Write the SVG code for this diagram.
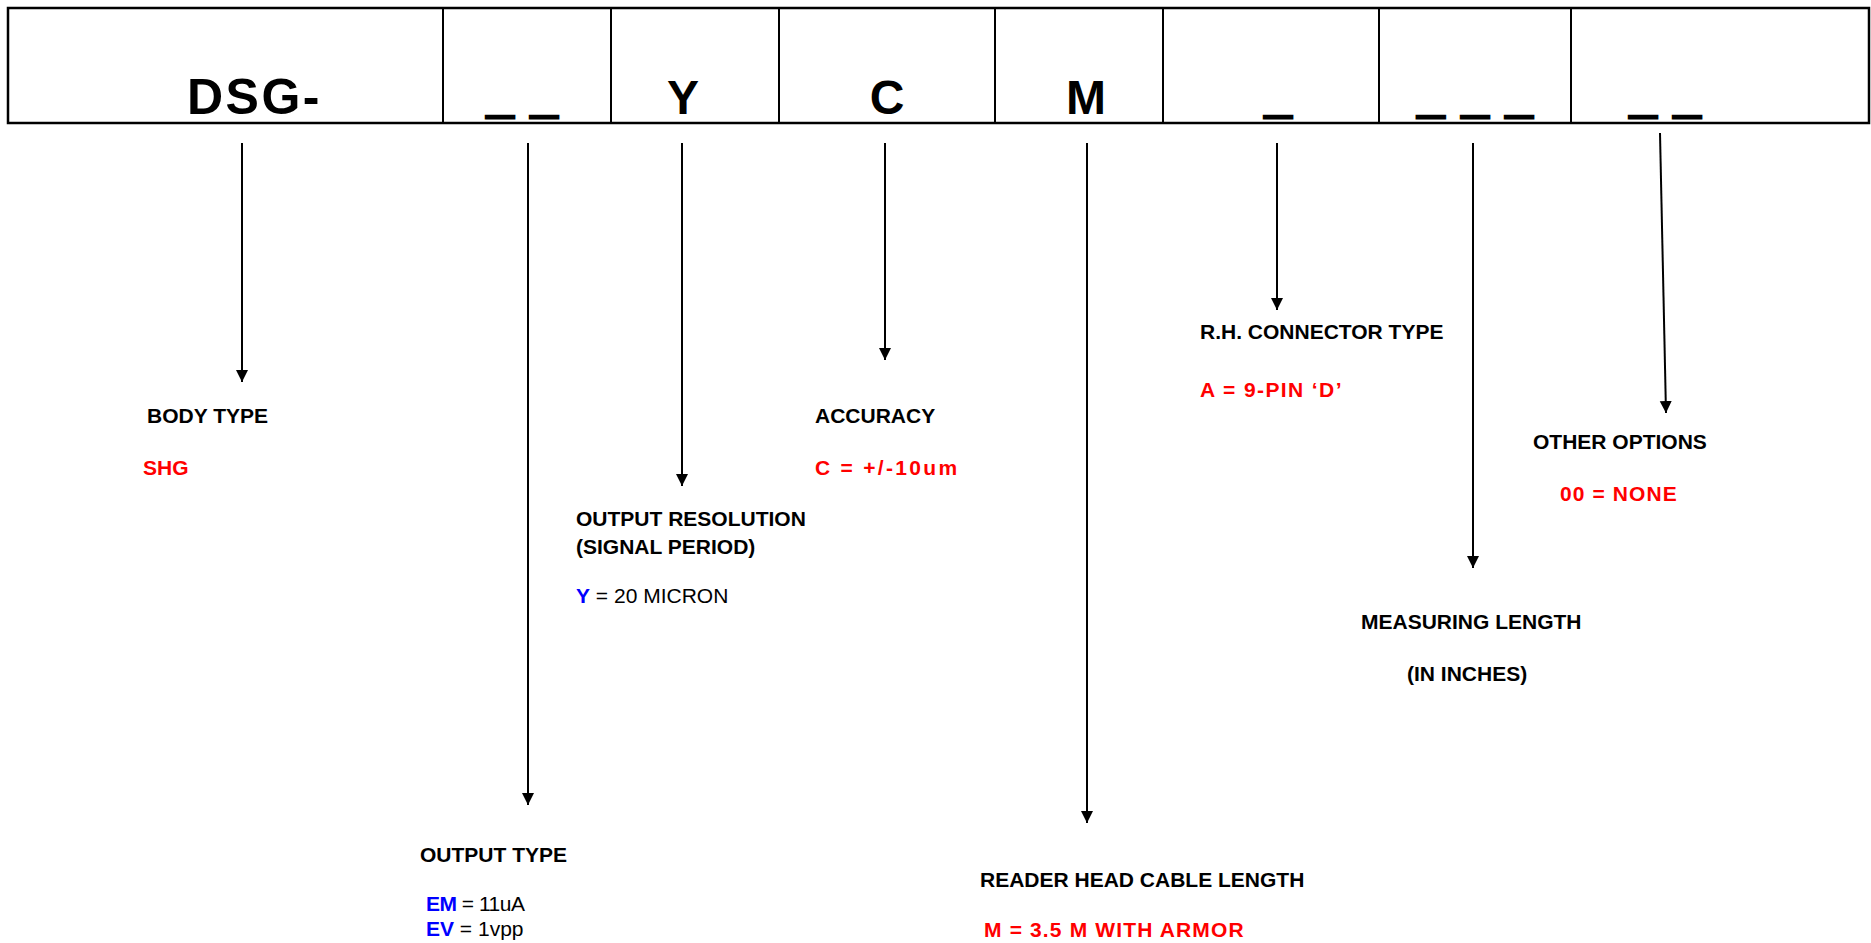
<svg xmlns="http://www.w3.org/2000/svg" width="1871" height="943" viewBox="0 0 1871 943">
  <style>
    .code { font-family: "Liberation Sans", Arial, sans-serif; font-weight: bold; font-size: 48px; fill: #000; text-anchor: middle; }
    .uline { font-family: "Liberation Sans", Arial, sans-serif; font-weight: bold; font-size: 48px; fill: #000; stroke: #000; stroke-width: 3; letter-spacing: 2px; text-anchor: middle; }
    .lbl { font-family: "Liberation Sans", Arial, sans-serif; font-weight: bold; font-size: 21px; fill: #000; }
    .red { font-family: "Liberation Sans", Arial, sans-serif; font-weight: bold; font-size: 21px; fill: #ff0000; }
    .reg { font-family: "Liberation Sans", Arial, sans-serif; font-weight: normal; font-size: 21px; fill: #000; }
    .blue { font-weight: bold; fill: #0000ff; }
    .arrow { stroke: #000; stroke-width: 2; fill: none; marker-end: url(#ah); }
    .div { stroke: #000; stroke-width: 2; }
  </style>
  <defs>
    <marker id="ah" viewBox="0 0 10 10" refX="10" refY="5" markerWidth="6" markerHeight="7" markerUnits="strokeWidth" orient="auto">
      <path d="M0,0 L10,5 L0,10 Z" fill="#000"/>
    </marker>
  </defs>
  <rect width="1871" height="943" fill="#fff"/>

  <g id="code-box">
    <rect x="8" y="8" width="1861" height="115" fill="#fff" stroke="#000" stroke-width="2.5"/>
    <line class="div" x1="443" y1="8" x2="443" y2="123"/>
    <line class="div" x1="611" y1="8" x2="611" y2="123"/>
    <line class="div" x1="779" y1="8" x2="779" y2="123"/>
    <line class="div" x1="995" y1="8" x2="995" y2="123"/>
    <line class="div" x1="1163" y1="8" x2="1163" y2="123"/>
    <line class="div" x1="1379" y1="8" x2="1379" y2="123"/>
    <line class="div" x1="1571" y1="8" x2="1571" y2="123"/>
    <text class="code" x="187" y="114" style="text-anchor:start; font-size:50px; letter-spacing:2.5px">DSG-</text>
    <text class="uline" x="523" y="111.5">_ _</text>
    <text class="code" x="683" y="114">Y</text>
    <text class="code" x="887" y="114">C</text>
    <text class="code" x="1086" y="114">M</text>
    <text class="uline" x="1279" y="111.5">_</text>
    <text class="uline" x="1476" y="111.5">_ _ _</text>
    <text class="uline" x="1666" y="111.5">_ _</text>
  </g>

  <g id="connectors">
    <line class="arrow" x1="242" y1="143" x2="242" y2="382"/>
    <line class="arrow" x1="528" y1="143" x2="528" y2="805"/>
    <line class="arrow" x1="682" y1="143" x2="682" y2="486"/>
    <line class="arrow" x1="885" y1="143" x2="885" y2="360"/>
    <line class="arrow" x1="1087" y1="143" x2="1087" y2="823"/>
    <line class="arrow" x1="1277" y1="143" x2="1277" y2="310"/>
    <line class="arrow" x1="1473" y1="143" x2="1473" y2="568"/>
    <line class="arrow" x1="1660" y1="133" x2="1666" y2="413"/>
  </g>

  <g id="body-type">
    <text class="lbl" x="147" y="423">BODY TYPE</text>
    <text class="red" x="143" y="475">SHG</text>
  </g>

  <g id="output-type">
    <text class="lbl" x="420" y="862">OUTPUT TYPE</text>
    <text class="reg" x="426" y="911" style="letter-spacing:-0.5px"><tspan class="blue">EM</tspan> = 11uA</text>
    <text class="reg" x="426" y="936"><tspan class="blue">EV</tspan> = 1vpp</text>
  </g>

  <g id="output-resolution">
    <text class="lbl" x="576" y="526">OUTPUT RESOLUTION</text>
    <text class="lbl" x="576" y="554">(SIGNAL PERIOD)</text>
    <text class="reg" x="576" y="603"><tspan class="blue">Y</tspan> = 20 MICRON</text>
  </g>

  <g id="accuracy">
    <text class="lbl" x="815" y="423">ACCURACY</text>
    <text class="red" x="815" y="475" style="letter-spacing:2.3px">C = +/-10um</text>
  </g>

  <g id="cable-length">
    <text class="lbl" x="980" y="887">READER HEAD CABLE LENGTH</text>
    <text class="red" x="984" y="937" style="letter-spacing:1.15px">M = 3.5 M WITH ARMOR</text>
  </g>

  <g id="connector-type">
    <text class="lbl" x="1200" y="339">R.H. CONNECTOR TYPE</text>
    <text class="red" x="1200" y="397" style="letter-spacing:1.4px">A = 9-PIN ‘D’</text>
  </g>

  <g id="measuring-length">
    <text class="lbl" x="1361" y="629">MEASURING LENGTH</text>
    <text class="lbl" x="1407" y="681">(IN INCHES)</text>
  </g>

  <g id="other-options">
    <text class="lbl" x="1533" y="449">OTHER OPTIONS</text>
    <text class="red" x="1560" y="501" style="letter-spacing:1.1px">00 = NONE</text>
  </g>
</svg>
